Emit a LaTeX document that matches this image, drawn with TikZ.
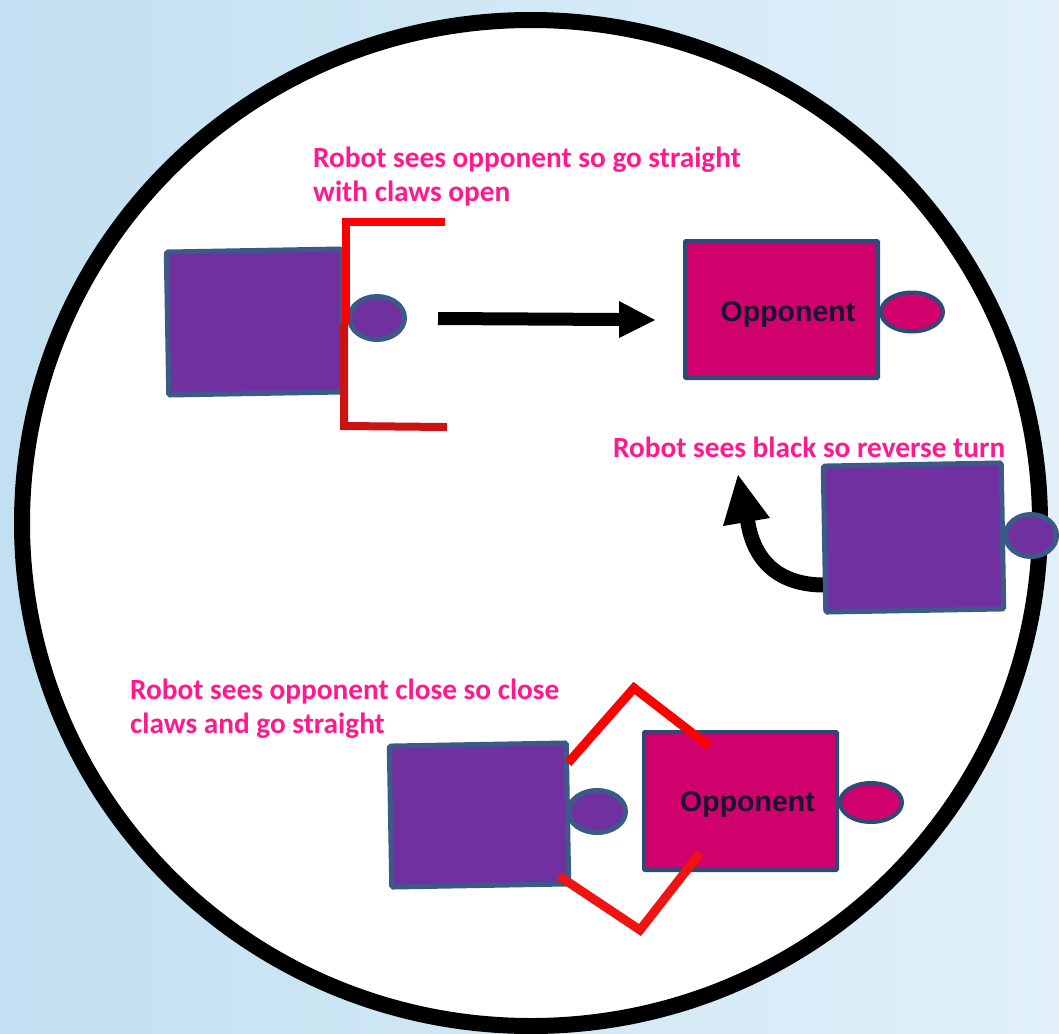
\documentclass[tikz,border=0pt]{standalone}
\usepackage{fontspec}
\newfontfamily\calfont{Carlito}
\newfontfamily\arialfont{Liberation Sans}
\usetikzlibrary{shapes.geometric,calc}
\definecolor{bgleft}{RGB}{194,224,241}
\definecolor{bgright}{RGB}{225,240,249}
\definecolor{pinktext}{RGB}{255,25,140}
\definecolor{robotfill}{RGB}{112,48,160}
\definecolor{robotedge}{RGB}{59,90,138}
\definecolor{oppfill}{RGB}{208,0,108}
\definecolor{oppedge}{RGB}{45,75,118}
\definecolor{opptextc}{RGB}{22,22,48}
\definecolor{clawdark}{RGB}{205,18,18}
\definecolor{clawred}{RGB}{255,0,0}
\definecolor{clawredb}{RGB}{238,20,20}
\begin{document}
\begin{tikzpicture}[x=1pt,y=-1pt,
  robot/.style={draw=robotedge, fill=robotfill, line width=5pt, rounded corners=1.5pt, inner sep=0pt, rotate=1},
  sensor/.style={ellipse, draw=robotedge, fill=robotfill, line width=5pt, inner sep=0pt},
  opp/.style={draw=oppedge, fill=oppfill, line width=4pt, inner sep=0pt, rounded corners=1pt},
  oppsensor/.style={ellipse, draw=oppedge, fill=oppfill, line width=4pt, inner sep=0pt},
  opptext/.style={font=\arialfont\bfseries\fontsize{28.5}{30}\selectfont, text=opptextc, inner sep=0pt, anchor=base},
  note/.style={font=\calfont\bfseries\fontsize{29.3}{34}\selectfont, text=pinktext, align=left, inner sep=0pt, anchor=base west},
  claw/.style={line width=8pt, line join=miter},
  thickarrow/.style={draw=black, line width=13pt}
]
\useasboundingbox (0,0) rectangle (1059,1033);
\shade[left color=bgleft, right color=bgright] (0,0) rectangle (1059,1033);
\draw[line width=16pt, fill=white] (531,523) ellipse [x radius=509, y radius=503];

% top scene
\node[note] (n1) at (313,201) {Robot sees opponent so go straight\\with claws open};
\node[robot, minimum width=175pt, minimum height=143pt] (r1) at (255,322) {};
\node[sensor, minimum width=55pt, minimum height=43pt] (s1) at (377,318) {};
\coordinate (c1a) at (445,222);
\coordinate (c1b) at (345.5,222);
\coordinate (c1c) at (345.5,323);
\coordinate (c1d) at (344,323);
\coordinate (c1e) at (344,426);
\coordinate (c1f) at (447,427);
\draw[claw, draw=clawred] (c1a) -- (c1b) -- (c1c);
\draw[claw, draw=clawdark] (c1d) -- (c1e) -- (c1f);

\coordinate (a1s) at (438,318.5);
\coordinate (a1b) at (619,319.5);
\coordinate (a1t) at (655,320);
\draw[thickarrow] (a1s) -- (a1b);
\fill[black] (a1t) -- ($(a1b)+(0,-18.5)$) -- ($(a1b)+(0,18.5)$) -- cycle;

\node[opp, minimum width=193pt, minimum height=137pt] (o1) at (781.5,309.5) {};
\node[oppsensor, minimum width=62pt, minimum height=39pt] (os1) at (912,312) {};
\node[opptext] (ot1) at (788,321.5) {Opponent};

% middle scene
\node[note] (n2) at (613,457) {Robot sees black so reverse turn};
\coordinate (a2s) at (824,585);
\coordinate (a2e) at (747,516);
\coordinate (a2t) at (738,475);
\draw[draw=black, line width=15pt] (a2s) .. controls (780,585) and (752,562) .. (a2e);
\fill[black] (a2t) -- (723,526) -- (770,518) -- cycle;
\node[robot, minimum width=178pt, minimum height=146pt] (r3) at (913.5,537.5) {};
\node[sensor, minimum width=51pt, minimum height=42pt] (s3) at (1031,535.5) {};

% bottom scene
\node[note] (n3) at (130,733) {Robot sees opponent close so close\\claws and go straight};
\node[robot, minimum width=177pt, minimum height=141pt] (r2) at (479,815) {};
\node[sensor, minimum width=57pt, minimum height=42pt] (s2) at (597,811.5) {};
\node[opp, minimum width=193pt, minimum height=138pt] (o2) at (740.5,801) {};
\node[oppsensor, minimum width=62pt, minimum height=39pt] (os2) at (871,802.5) {};
\node[opptext] (ot2) at (747.5,811.5) {Opponent};
\coordinate (c2a) at (568,763);
\coordinate (c2b) at (634,688);
\coordinate (c2c) at (709,746);
\coordinate (c2d) at (559,876);
\coordinate (c2e) at (640,930);
\coordinate (c2f) at (700,853);
\draw[claw, line width=9pt, draw=clawred] (c2a) -- (c2b) -- (c2c);
\draw[claw, line width=9pt, draw=clawredb] (c2d) -- (c2e) -- (c2f);
\end{tikzpicture}
\end{document}
